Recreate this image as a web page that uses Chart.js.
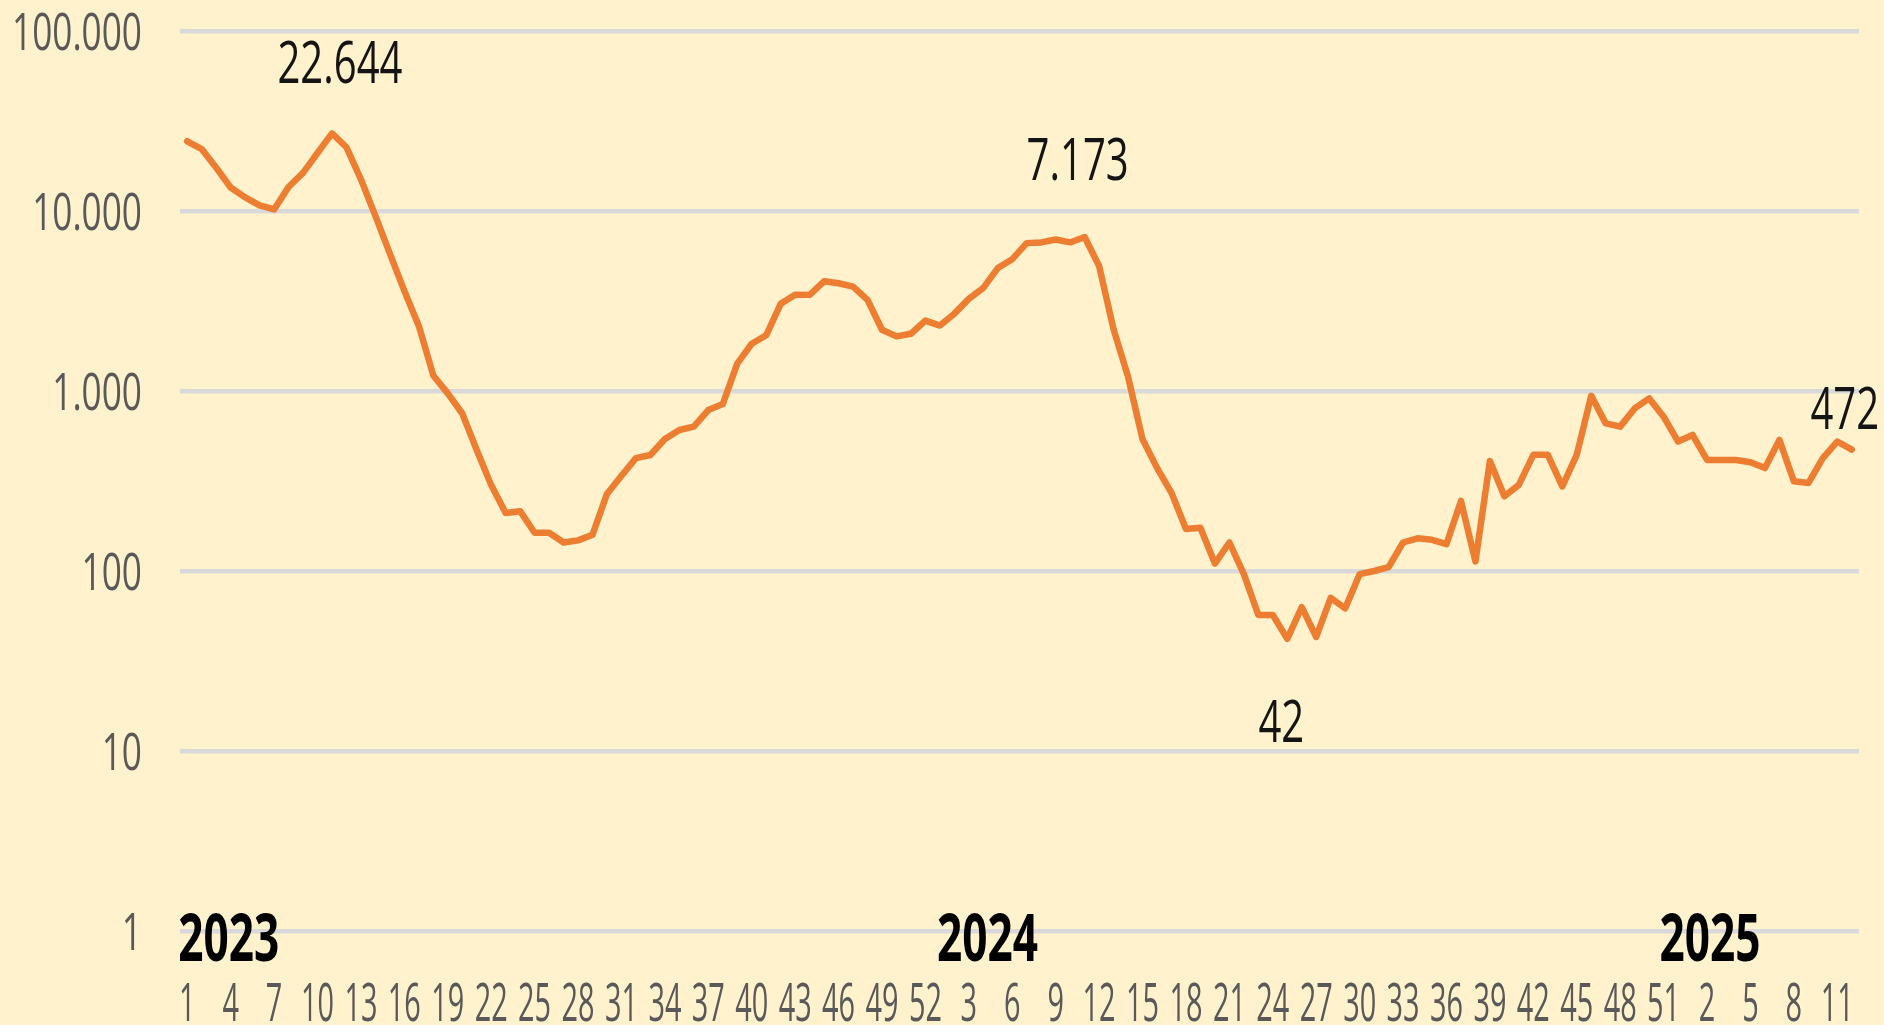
<!DOCTYPE html>
<html>
<head>
<meta charset="utf-8">
<title>Weekly cases 2023-2025</title>
<script src="https://cdn.jsdelivr.net/npm/chart.js@4.4.1/dist/chart.umd.min.js"></script>
<style>
  html, body { margin: 0; padding: 0; background: #FFF2CC; overflow: hidden; }
  #wrap { width: 1884px; height: 1025px; position: relative; }
</style>
</head>
<body>
<div id="wrap"><canvas id="myChart"></canvas></div>
<script>
'use strict';

// week numbers (categories)
const weeks2023 = [1,2,3,4,5,6,7,8,9,10,11,12,13,14,15,16,17,18,19,20,21,22,23,24,25,26,
  27,28,29,30,31,32,33,34,35,36,37,38,39,40,41,42,43,44,45,46,47,48,49,50,51,52];
const weeks2024 = [1,2,3,4,5,6,7,8,9,10,11,12,13,14,15,16,17,18,19,20,21,22,23,24,25,26,
  27,28,29,30,31,32,33,34,35,36,37,38,39,40,41,42,43,44,45,46,47,48,49,50,51,52];
const weeks2025 = [1,2,3,4,5,6,7,8,9,10,11,12];

// weekly values
const cases2023 = [24400, 22100, 17400, 13500, 11900, 10750, 10200, 13600, 16300, 21000,
  27000, 22600, 15000, 9400, 5800, 3600, 2300, 1220, 970, 750,
  470, 300, 210, 215, 163, 163, 144, 148, 159, 268,
  338, 424, 441, 541, 607, 634, 783, 846, 1420, 1830,
  2040, 3050, 3430, 3420, 4070, 3970, 3800, 3210, 2190, 2010,
  2080, 2460];
const cases2024 = [2310, 2690, 3250, 3740, 4820, 5400, 6630, 6690,
  6950, 6690, 7173, 4950, 2200, 1200, 540, 374, 272, 171,
  174, 110, 144, 96, 57, 57, 42, 63, 43, 71,
  62, 96, 100, 105, 144, 152, 149, 141, 245, 113,
  408, 260, 301, 442, 442, 295, 442, 940, 661, 634,
  800, 910, 720, 524];
const cases2025 = [570, 414, 414, 414, 402, 373, 535, 315, 308, 424, 524, 472];

const yTicks = [1, 10, 100, 1000, 10000, 100000];
const yTickLabels = ['1', '10', '100', '1.000', '10.000', '100.000'];

const years = ['2023', '2024', '2025'];
const yearAt = [0, 52, 102];          // category where the year text starts

const noteAt = [10, 62, 76, 115];
const noteText = ['22.644', '7.173', '42', '472'];

const labels = weeks2023.concat(weeks2024, weeks2025).map(String);
const cases = cases2023.concat(cases2024, cases2025);

// draw text squeezed horizontally, like the condensed labels in the original
function narrowText(ctx, txt, x, y, font, color, align, squeeze) {
  ctx.save();
  ctx.translate(x, y);
  ctx.scale(squeeze, 1);
  ctx.font = font;
  ctx.fillStyle = color;
  ctx.textAlign = align;
  ctx.textBaseline = 'alphabetic';
  ctx.fillText(txt, 0, 0);
  ctx.restore();
}

function squeezeFor(ctx, font, sample, width) {
  ctx.save();
  ctx.font = font;
  const w = ctx.measureText(sample).width;
  ctx.restore();
  return width / w;
}

const bgPlugin = {
  id: 'bg',
  beforeDraw(chart) {
    const ctx = chart.ctx;
    ctx.save();
    ctx.fillStyle = '#FFF2CC';
    ctx.fillRect(0, 0, chart.width, chart.height);
    ctx.restore();
  }
};

const textPlugin = {
  id: 'texts',
  afterDraw(chart) {
    const ctx = chart.ctx;
    const xs = chart.scales.x;
    const ys = chart.scales.y;
    const fam = '"Open Sans", "Liberation Sans", sans-serif';

    // y axis labels
    const fTick = '52px ' + fam;
    const sTick = squeezeFor(ctx, fTick, '100.000', 130);
    yTicks.forEach((v, i) => {
      narrowText(ctx, yTickLabels[i], 142, ys.getPixelForValue(v) + 18.6, fTick, '#595959', 'right', sTick);
    });

    // week numbers, every third one
    const fWeek = '53px ' + fam;
    const sWeek = squeezeFor(ctx, fWeek, '10', 33);
    for (let i = 0; i < labels.length; i += 3) {
      narrowText(ctx, labels[i], xs.getPixelForValue(i), 1021, fWeek, '#595959', 'center', sWeek);
    }

    // years
    const fYear = 'bold 67px ' + fam;
    const sYear = squeezeFor(ctx, fYear, '2023', 101);
    const ydx = [-9, -3, -4];
    years.forEach((y, i) => {
      narrowText(ctx, y, xs.getPixelForValue(yearAt[i]) + ydx[i], 961, fYear, '#000000', 'left', sYear);
    });

    // value notes
    const fNote = '58px ' + fam;
    const sNote = squeezeFor(ctx, fNote, '22.644', 125);
    const dx = [8, -7, -6, -7];
    const dy = [-50, -57, 103, -21];
    noteAt.forEach((idx, i) => {
      const px = xs.getPixelForValue(idx);
      const py = ys.getPixelForValue(cases[idx]);
      narrowText(ctx, noteText[i], px + dx[i], py + dy[i], fNote, '#141414', 'center', sNote);
    });
  }
};

const config = {
  type: 'line',
  data: {
    labels: labels,
    datasets: [{
      label: 'cases',
      data: cases,
      borderColor: '#ED7D31',
      borderWidth: 6.5,
      borderJoinStyle: 'round',
      borderCapStyle: 'round',
      pointRadius: 0,
      tension: 0,
      fill: false
    }]
  },
  options: {
    responsive: true,
    maintainAspectRatio: false,
    animation: false,
    devicePixelRatio: 1,
    layout: { padding: { left: 180, right: 25, top: 31, bottom: 94 } },
    plugins: { legend: { display: false }, tooltip: { enabled: false } },
    scales: {
      x: {
        type: 'category',
        offset: true,
        grid: { display: false, drawTicks: false },
        border: { display: false },
        ticks: { display: false },
        afterFit: (s) => { s.height = 0; }
      },
      y: {
        type: 'logarithmic',
        min: 1,
        max: 100000,
        afterBuildTicks: (s) => { s.ticks = yTicks.map(v => ({ value: v })); },
        grid: { color: '#D9D9D9', lineWidth: 4.5, drawTicks: false },
        border: { display: false },
        ticks: { display: false },
        afterFit: (s) => { s.width = 0; }
      }
    }
  },
  plugins: [bgPlugin, textPlugin]
};

function makeChart() {
  new Chart(document.getElementById('myChart'), config);
}

Promise.all([
  document.fonts.load('52px "Open Sans"'),
  document.fonts.load('bold 67px "Open Sans"')
]).then(makeChart, makeChart);
</script>
</body>
</html>
